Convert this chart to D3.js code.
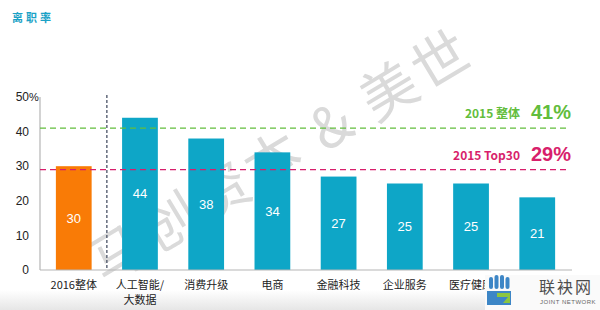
<!DOCTYPE html>
<html>
<head>
<meta charset="utf-8">
<script src="https://cdn.jsdelivr.net/npm/d3@7"></script>
<style>
  body { margin: 0; background: #fff; }
  svg { display: block; font-family: 'Liberation Sans', Arial, sans-serif; }
  .cjk { font-family: 'Noto Sans CJK SC', sans-serif; }
</style>
</head>
<body>
<svg width="600" height="310"></svg>
<script>
const CATEGORIES = ['2016整体', '人工智能/大数据', '消费升级', '电商', '金融科技', '企业服务', '医疗健康', '文化娱乐'];
const VALUES = [30, 44, 38, 34, 27, 25, 25, 21];
const Y_TICKS = [0, 10, 20, 30, 40, 50];
const REF_NAMES = ['2015 整体', '2015 Top30'];
const REF_VALUES = [41, 29];
const REF_COLORS = ['#62bd3c', '#d81f6c'];

const svg = d3.select('svg');
const width = 600, height = 310;

// soft grey band at the bottom of the slide
const defs = svg.append('defs');
const grad = defs.append('linearGradient').attr('id', 'foot').attr('x1', 0).attr('x2', 0).attr('y1', 0).attr('y2', 1);
grad.append('stop').attr('offset', 0).attr('stop-color', '#fff');
grad.append('stop').attr('offset', 1).attr('stop-color', '#e6e6e6');
svg.append('rect').attr('x', 0).attr('y', 290).attr('width', width).attr('height', 20).attr('fill', 'url(#foot)');

// title
svg.append('text')
    .attr('class', 'cjk')
    .attr('x', 12).attr('y', 22)
    .attr('font-size', 11).attr('font-weight', 'bold')
    .attr('letter-spacing', 3)
    .attr('fill', '#1ba2c6')
    .text('离职率');

// watermark
svg.append('text')
    .attr('class', 'cjk')
    .attr('transform', 'translate(105,285)rotate(-31)')
    .attr('font-size', 56)
    .attr('fill', '#dadada')
    .attr('letter-spacing', 4)
    .text('马创资本 & 美世');

const x = d3.scaleBand()
    .domain(CATEGORIES)
    .range([38, 573])
    .paddingInner(0.46)
    .paddingOuter(0.27);

const y = d3.scaleLinear()
    .domain([0, 50])
    .range([270, 97]);

// bars
svg.append('g')
  .selectAll('rect')
  .data(VALUES)
  .enter().append('rect')
    .attr('x', (d, i) => x(CATEGORIES[i]))
    .attr('y', d => y(d))
    .attr('width', x.bandwidth())
    .attr('height', d => y(0) - y(d))
    .attr('fill', (d, i) => i === 0 ? '#f97b06' : '#0ea6c7');

// values inside bars
svg.append('g')
    .attr('font-size', 13).attr('fill', '#fff')
    .attr('text-anchor', 'middle')
  .selectAll('text')
  .data(VALUES)
  .enter().append('text')
    .attr('x', (d, i) => x(CATEGORIES[i]) + x.bandwidth() / 2)
    .attr('y', d => (y(d) + y(0)) / 2)
    .attr('dy', '0.35em')
    .text(d => d);

// axes lines
svg.append('line')
    .attr('x1', 40).attr('x2', 40).attr('y1', y(50)).attr('y2', y(0))
    .attr('stroke', '#b5b5b5').attr('stroke-width', 1.2);
svg.append('line')
    .attr('x1', 40).attr('x2', 572).attr('y1', y(0)).attr('y2', y(0))
    .attr('stroke', '#b5b5b5').attr('stroke-width', 1.2);

// y tick labels
svg.append('g')
    .attr('font-size', 12).attr('fill', '#222')
    .attr('text-anchor', 'end')
  .selectAll('text')
  .data(Y_TICKS)
  .enter().append('text')
    .attr('x', 29)
    .attr('y', d => y(d))
    .attr('dy', '0.35em')
    .text(d => d);
svg.append('text')
    .attr('x', 29).attr('y', y(50)).attr('dy', '0.35em')
    .attr('font-size', 11).attr('fill', '#222')
    .text('%');

// separator between 2016 overall and sectors
const sepX = (x(CATEGORIES[0]) + x.bandwidth() + x(CATEGORIES[1])) / 2;
svg.append('line')
    .attr('x1', sepX).attr('x2', sepX).attr('y1', 95).attr('y2', y(0))
    .attr('stroke', '#4a5266').attr('stroke-width', 1.3)
    .attr('stroke-dasharray', '3,2');

// 2015 reference lines
const refs = svg.append('g')
  .selectAll('g')
  .data(REF_VALUES)
  .enter().append('g');

refs.append('line')
    .attr('x1', 40).attr('x2', 568)
    .attr('y1', d => y(d)).attr('y2', d => y(d))
    .attr('stroke', (d, i) => REF_COLORS[i])
    .attr('stroke-width', 1.3)
    .attr('stroke-dasharray', '6,4');

refs.append('text')
    .attr('class', 'cjk')
    .attr('x', 520)
    .attr('y', d => y(d) - 10)
    .attr('text-anchor', 'end')
    .attr('font-size', 12).attr('font-weight', 'bold')
    .attr('fill', (d, i) => REF_COLORS[i])
    .text((d, i) => REF_NAMES[i]);

refs.append('text')
    .attr('x', 571)
    .attr('y', d => y(d) - 9)
    .attr('text-anchor', 'end')
    .attr('font-size', 20).attr('font-weight', 'bold')
    .attr('fill', (d, i) => REF_COLORS[i])
    .text(d => d + '%');

// category labels, wrapped at '/'
const xl = svg.append('g')
    .attr('class', 'cjk')
    .attr('font-size', 11).attr('fill', '#222')
    .attr('text-anchor', 'middle')
  .selectAll('text')
  .data(CATEGORIES)
  .enter().append('text')
    .attr('x', d => x(d) + x.bandwidth() / 2)
    .attr('y', 289);
xl.each(function (d) {
  const parts = d.split('/');
  const t = d3.select(this);
  parts.forEach((p, j) => {
    t.append('tspan')
        .attr('x', t.attr('x'))
        .attr('dy', j === 0 ? 0 : 15)
        .text(j < parts.length - 1 ? p + '/' : p);
  });
});

// site logo in the corner (covers the end of the axis labels, as in the slide)
const logo = svg.append('g');
logo.append('rect').attr('x', 485).attr('y', 275).attr('width', 115).attr('height', 35).attr('fill', '#fafafa');
[0, 1, 2, 3].forEach(k => {
  const lift = (k === 1 || k === 2) ? 2 : 0;
  logo.append('rect')
      .attr('x', 489 + k * 5.5).attr('y', 277 - lift)
      .attr('width', 4).attr('height', 12 + lift)
      .attr('rx', 2).attr('fill', '#3d86c6');
});
logo.append('path')
    .attr('d', 'M487,291 L511,291 L511,305 L487,305 Z')
    .attr('fill', '#3d86c6');
logo.append('path')
    .attr('d', 'M497,293 L510,293 L510,303 L503,303 L508,297 L497,297 Z')
    .attr('fill', '#8cc63f');
logo.append('text')
    .attr('class', 'cjk')
    .attr('x', 539).attr('y', 293)
    .attr('font-size', 16).attr('fill', '#4d4d4d')
    .attr('letter-spacing', 2)
    .text('联袂网');
logo.append('text')
    .attr('x', 540).attr('y', 304)
    .attr('font-size', 6).attr('fill', '#666')
    .attr('letter-spacing', 0.5)
    .text('JOINT NETWORK');
</script>
</body>
</html>
